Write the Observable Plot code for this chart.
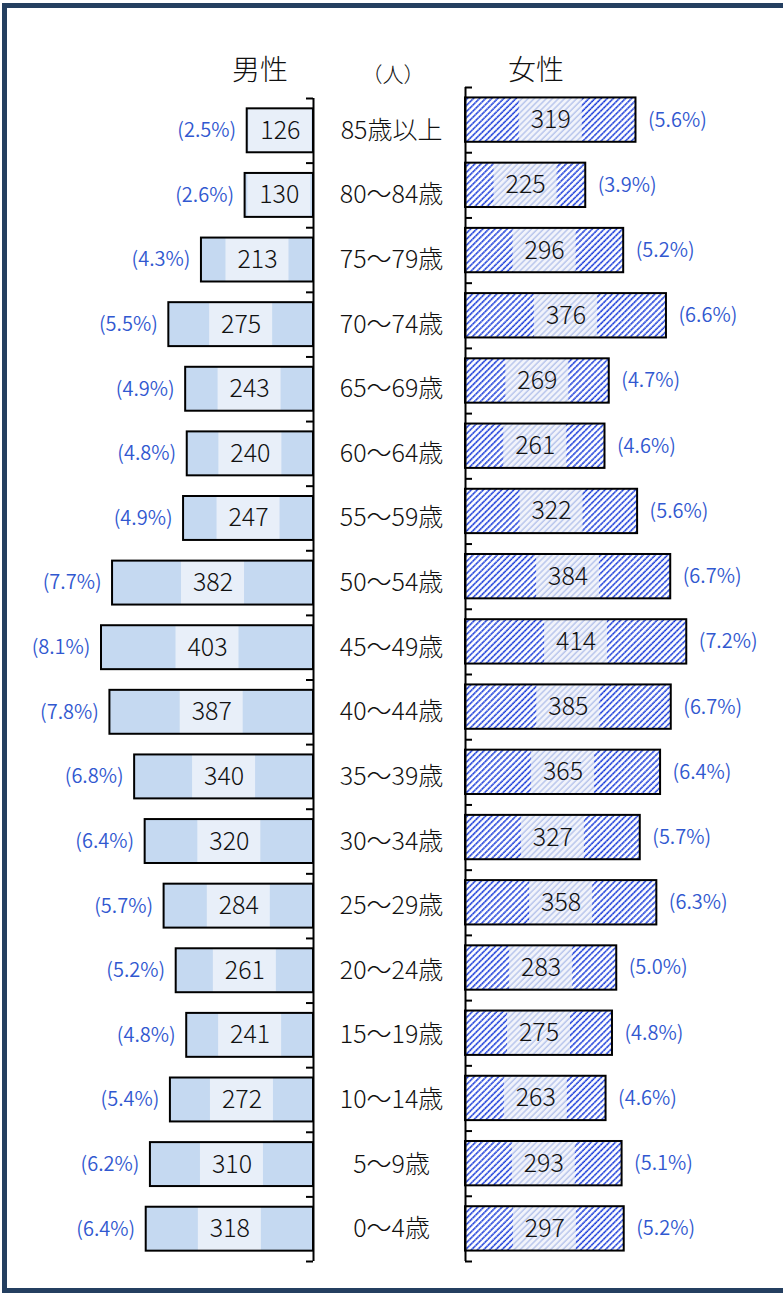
<!DOCTYPE html>
<html><head><meta charset="utf-8">
<script src="https://cdn.jsdelivr.net/npm/d3@7"></script>
<script src="https://cdn.jsdelivr.net/npm/@observablehq/plot@0.6"></script>
<style>
body{margin:0;background:#fff;}
#wrap{position:relative;width:783px;height:1293px;overflow:hidden;font-family:"Noto Sans CJK JP",sans-serif;}
#frame{position:absolute;left:2px;top:3px;width:840px;height:1280px;border:5px solid #243F60;}
.hdr{position:absolute;transform:translate(-50%,-50%);white-space:nowrap;color:#111;font-weight:300;}
#male,#female{position:absolute;top:0;}
#male{left:0;} #female{left:455px;}
</style></head>
<body>
<div id="wrap">
  <div id="frame"></div>
  <div class="hdr" style="left:260px;top:68px;font-size:28px;">男性</div>
  <div class="hdr" style="left:393px;top:73px;font-size:21px;">（人）</div>
  <div class="hdr" style="left:536px;top:68px;font-size:28px;">女性</div>
  <div id="male"></div>
  <div id="female"></div>
</div>
<script>
const ages = ["85歳以上","80～84歳","75～79歳","70～74歳","65～69歳","60～64歳","55～59歳","50～54歳","45～49歳","40～44歳","35～39歳","30～34歳","25～29歳","20～24歳","15～19歳","10～14歳","5～9歳","0～4歳"];
const maleCounts = [126,130,213,275,243,240,247,382,403,387,340,320,284,261,241,272,310,318];
const malePct = [2.5,2.6,4.3,5.5,4.9,4.8,4.9,7.7,8.1,7.8,6.8,6.4,5.7,5.2,4.8,5.4,6.2,6.4];
const femaleCounts = [319,225,296,376,269,261,322,384,414,385,365,327,358,283,275,263,293,297];
const femalePct = [5.6,3.9,5.2,6.6,4.7,4.6,5.6,6.7,7.2,6.7,6.4,5.7,6.3,5.0,4.8,4.6,5.1,5.2];

const rows = ages.map((age, i) => ({i, age, m: maleCounts[i], mp: malePct[i], f: femaleCounts[i], fp: femalePct[i]}));
const bounds = d3.range(ages.length + 1).map(k => k - 0.5);

const H = 1293, half = 0.34, maxX = 595;
const font = "'Noto Sans CJK JP', sans-serif";
const pctColor = "#3158D0";
const fmtPct = v => `(${v.toFixed(1)}%)`;

// male
const mW = 455, mMR = 142;
const kM = maxX / (mW - mMR);
const boxM = 31.5 * kM;
const malePlot = Plot.plot({
  width: mW, height: H, marginTop: 98, marginBottom: 32, marginLeft: 0, marginRight: mMR,
  x: {domain: [0, maxX], reverse: true, axis: null},
  y: {domain: [-0.5, ages.length - 0.5], reverse: true, axis: null},
  style: {background: "transparent", overflow: "visible", fontFamily: font},
  marks: [
    Plot.rect(rows, {x1: 0, x2: "m", y1: d => d.i - half, y2: d => d.i + half, fill: "#C5D9F1"}),
    Plot.rect(rows, {x1: d => Math.max(0, d.m / 2 - boxM), x2: d => Math.min(d.m, d.m / 2 + boxM), y1: d => d.i - half, y2: d => d.i + half, fill: "#E8EFF9"}),
    Plot.rect(rows, {x1: 0, x2: "m", y1: d => d.i - half, y2: d => d.i + half, fill: "none", stroke: "#000", strokeWidth: 2}),
    Plot.text(rows, {x: d => d.m / 2, y: "i", text: d => String(d.m), fontSize: 25, fontWeight: 300, fill: "#111"}),
    Plot.text(rows, {x: "m", y: "i", text: d => fmtPct(d.mp), textAnchor: "end", dx: -11, fontSize: 20, fontWeight: 350, fill: pctColor}),
    Plot.text(rows, {x: 0, y: "i", text: "age", dx: 78, fontSize: 25, fontWeight: 300, fill: "#111", textAnchor: "middle"}),
    Plot.ruleX([0], {y1: -0.5, y2: ages.length - 0.5, stroke: "#000", strokeWidth: 2}),
    Plot.ruleY(bounds, {x1: 0, x2: 7 * kM, stroke: "#000", strokeWidth: 2})
  ]
});
document.getElementById("male").append(malePlot);

// female
const fW = 328, fML = 10;
const kF = maxX / (fW - fML);
const boxF = 31.5 * kF;
const femalePlot = Plot.plot({
  width: fW, height: H, marginTop: 87, marginBottom: 32, marginLeft: fML, marginRight: 0,
  x: {domain: [0, maxX], axis: null},
  y: {domain: [-0.5, ages.length - 0.5], reverse: true, axis: null},
  style: {background: "transparent", overflow: "visible", fontFamily: font},
  marks: [
    Plot.rect(rows, {x1: 0, x2: "f", y1: d => d.i - half, y2: d => d.i + half, fill: "url(#hatchDark)"}),
    Plot.rect(rows, {x1: d => Math.max(0, d.f / 2 - boxF), x2: d => Math.min(d.f, d.f / 2 + boxF), y1: d => d.i - half, y2: d => d.i + half, fill: "url(#hatchLight)"}),
    Plot.rect(rows, {x1: 0, x2: "f", y1: d => d.i - half, y2: d => d.i + half, fill: "none", stroke: "#000", strokeWidth: 2}),
    Plot.text(rows, {x: d => d.f / 2, y: "i", text: d => String(d.f), fontSize: 25, fontWeight: 300, fill: "#111"}),
    Plot.text(rows, {x: "f", y: "i", text: d => fmtPct(d.fp), textAnchor: "start", dx: 12, fontSize: 20, fontWeight: 350, fill: pctColor}),
    Plot.ruleX([0], {y1: -0.5, y2: ages.length - 0.5, stroke: "#000", strokeWidth: 2}),
    Plot.ruleY(bounds, {x1: 0, x2: 7 * kF, stroke: "#000", strokeWidth: 2})
  ]
});
const ns = "http://www.w3.org/2000/svg";
const defs = document.createElementNS(ns, "defs");
defs.innerHTML = `
<pattern id="hatchDark" patternUnits="userSpaceOnUse" width="4.3" height="4.3" patternTransform="rotate(45)">
  <rect width="4.3" height="4.3" fill="#ffffff"/>
  <line x1="1" y1="0" x2="1" y2="4.3" stroke="#8ea4ee" stroke-width="1.7"/>
  <line x1="1" y1="0" x2="1" y2="4.3" stroke="#1535d8" stroke-width="1.5" stroke-dasharray="1.6 0.7"/>
</pattern>
<pattern id="hatchLight" patternUnits="userSpaceOnUse" width="4.3" height="4.3" patternTransform="rotate(45)">
  <rect width="4.3" height="4.3" fill="#f2f4fb"/>
  <line x1="1" y1="0" x2="1" y2="4.3" stroke="#b9c6ec" stroke-width="1.5"/>
</pattern>`;
femalePlot.insertBefore(defs, femalePlot.firstChild);
document.getElementById("female").append(femalePlot);
</script>
</body></html>
